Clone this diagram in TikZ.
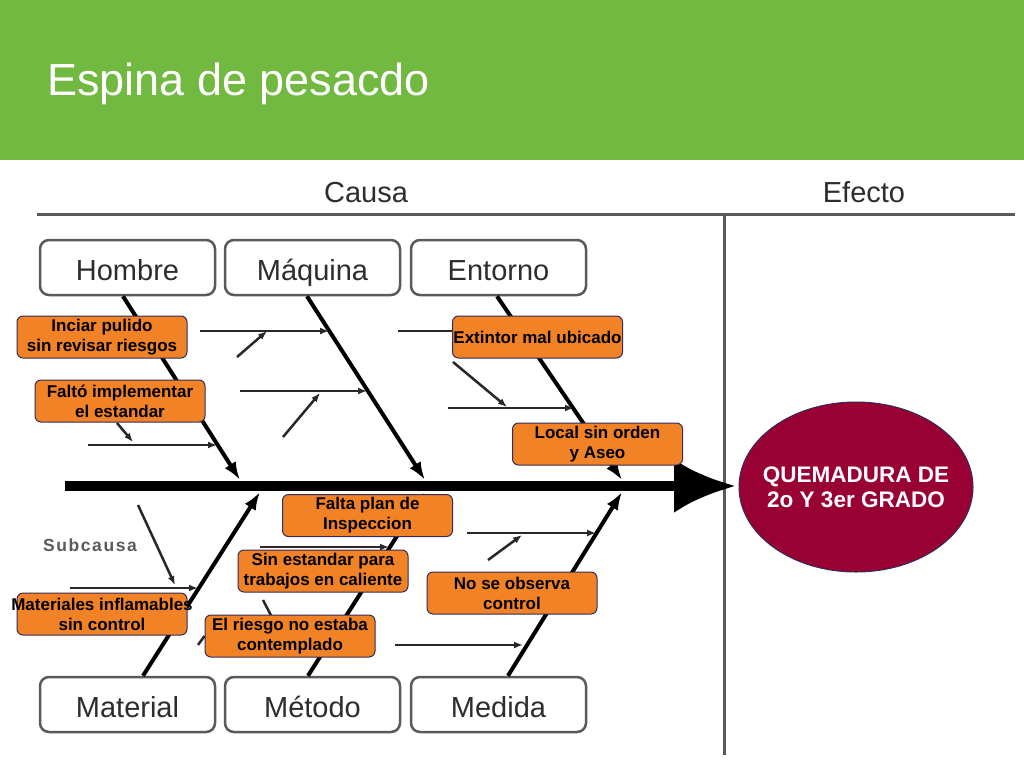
\documentclass[tikz,border=0pt]{standalone}
\usepackage{fontspec}
\setmainfont{Liberation Sans}
\usetikzlibrary{arrows.meta,shapes.geometric}
\definecolor{hdrgreen}{RGB}{114,185,66}
\definecolor{boxorange}{RGB}{242,130,38}
\definecolor{boxedge}{RGB}{50,45,90}
\definecolor{crimson}{RGB}{153,0,51}
\definecolor{linegray}{RGB}{90,90,90}
\definecolor{subgray}{RGB}{40,40,40}
\definecolor{txtgray}{RGB}{45,45,45}
\begin{document}
\begin{tikzpicture}[x=1pt,y=-1pt,
  catbox/.style={draw=linegray, line width=2.5pt, rounded corners=9pt, fill=white,
    minimum width=175pt, minimum height=55pt, inner sep=0pt,
    text height=28pt, text depth=3pt,
    font=\fontsize{29}{31}\selectfont, text=txtgray},
  causebox/.style={draw=boxedge, line width=1pt, rounded corners=6pt, fill=boxorange,
    minimum width=170pt, minimum height=42pt, inner sep=0pt, align=center,
    font=\bfseries\fontsize{17}{20}\selectfont},
  bone/.style={line width=4pt, -{Latex[length=18pt,width=13pt]}},
  sub/.style={draw=subgray, line width=2.5pt, -{Latex[length=9pt,width=7pt]}},
  subline/.style={draw=subgray, line width=2.5pt},
  frameline/.style={draw=linegray, line width=3pt},
]
\useasboundingbox (0,0) rectangle (1024,768);
\fill[white] (0,0) rectangle (1024,768);
\fill[hdrgreen] (0,0) rectangle (1024,160);
\node[anchor=base west, text=white, font=\fontsize{45}{50}\selectfont, inner sep=0pt] (title) at (47,95) {Espina de pesacdo};

% frame
\coordinate (tlL) at (37,214);
\coordinate (tlR) at (1015,214);
\coordinate (vtT) at (724,214);
\coordinate (vtB) at (724,755);
\draw[frameline] (tlL) -- (tlR);
\draw[frameline] (vtT) -- (vtB);
\node[anchor=base, font=\fontsize{29}{32}\selectfont, text=txtgray, inner sep=0pt] (causa) at (366,202) {Causa};
\node[anchor=base, font=\fontsize{29}{32}\selectfont, text=txtgray, inner sep=0pt] (efecto) at (864,202) {Efecto};

% category boxes
\node[catbox] (hombre) at (127.5,267.5) {Hombre};
\node[catbox] (maquina) at (312.5,267.5) {Máquina};
\node[catbox] (entorno) at (498.5,267.5) {Entorno};
\node[catbox] (material) at (127.5,704.5) {Material};
\node[catbox] (metodo) at (312.5,704.5) {Método};
\node[catbox] (medida) at (498.5,704.5) {Medida};

% spine
\coordinate (spL) at (65,486);
\coordinate (spR) at (736,486);
\draw[line width=10pt, -{Latex[length=62pt,width=54pt]}] (spL) -- (spR);

% bone tips
\coordinate (tH) at (240,480);
\coordinate (tQ) at (425,480);
\coordinate (tE) at (622,480);
\coordinate (tM) at (260,492);
\coordinate (tT) at (425,492);
\coordinate (tD) at (622,492);
\draw[bone] ([xshift=-4.5pt]hombre.south) -- (tH);
\draw[bone] ([xshift=-5.5pt]maquina.south) -- (tQ);
\draw[bone] ([xshift=-1.5pt]entorno.south) -- (tE);
\draw[bone] ([xshift=15.5pt]material.north) -- (tM);
\draw[bone] ([xshift=-4.5pt]metodo.north) -- (tT);
\draw[bone] ([xshift=9.5pt]medida.north) -- (tD);

% sub-cause arrows (upper)
\coordinate (a1) at (200,331); \coordinate (b1) at (329,331);
\coordinate (a2) at (237,357); \coordinate (b2) at (267,331);
\coordinate (a3) at (240,391); \coordinate (b3) at (367,391);
\coordinate (a4) at (283,437); \coordinate (b4) at (320,393);
\coordinate (a5) at (88,445);  \coordinate (b5) at (217,445);
\coordinate (a6) at (117,423); \coordinate (b6) at (133,442);
\coordinate (a7) at (398,331);
\coordinate (a8) at (453,362); \coordinate (b8) at (507,407);
\coordinate (a9) at (448,408); \coordinate (b9) at (574,408);
\draw[sub] (a1) -- (b1);
\draw[sub] (a2) -- (b2);
\draw[sub] (a3) -- (b3);
\draw[sub] (a4) -- (b4);
\draw[sub] (a5) -- (b5);
\draw[sub] (a6) -- (b6);
\draw[sub] (a8) -- (b8);
\draw[sub] (a9) -- (b9);

% sub-cause arrows (lower)
\coordinate (a10) at (138,505); \coordinate (b10) at (175,585);
\coordinate (a11) at (70,588);  \coordinate (b11) at (198,588);
\coordinate (a12) at (198,645);
\coordinate (a13) at (263,600); \coordinate (b13) at (276,625);
\coordinate (a14) at (260,547); \coordinate (b14) at (389,547);
\coordinate (a15) at (467,533); \coordinate (b15) at (596,533);
\coordinate (a16) at (488,560); \coordinate (b16) at (522,535);
\coordinate (a17) at (395,645); \coordinate (b17) at (523,645);
\draw[sub] (a10) -- (b10);
\draw[sub] (a11) -- (b11);
\draw[subline] (a13) -- (b13);
\draw[sub] (a14) -- (b14);
\draw[sub] (a15) -- (b15);
\draw[sub] (a16) -- (b16);
\draw[sub] (a17) -- (b17);

\node[font=\bfseries\fontsize{17.5}{19}\selectfont\addfontfeature{LetterSpace=9}, text=linegray, inner sep=0pt] (subcausa) at (90,545) {Subcausa};

% cause boxes
\node[causebox] (inciar) at (102,337) {Inciar pulido\\sin revisar riesgos};
\node[causebox] (faltoimpl) at (120,401) {Faltó implementar\\el estandar};
\node[causebox] (ext) at (537.5,337) {Extintor mal ubicado};
\draw[subline] (a7) -- (a7 -| ext.west);
\node[causebox] (local) at (597.5,444) {Local sin orden\\y Aseo};
\node[causebox] (faltaplan) at (367.5,515.5) {Falta plan de\\Inspeccion};
\node[causebox] (sinest) at (323,571) {Sin estandar para\\trabajos en caliente};
\node[causebox] (noobs) at (512,593) {No se observa\\control};
\node[causebox] (materiales) at (102,614) {\makebox[0pt]{Materiales inflamables}\\sin control};
\node[causebox] (riesgo) at (290,636) {El riesgo no estaba\\contemplado};
\draw[subline] (a12) -- (riesgo.west);

% effect
\node[ellipse, draw=boxedge, line width=1pt, fill=crimson, minimum width=234pt, minimum height=170pt,
  inner sep=0pt] (effect) at (856,487) {};
\node[inner sep=0pt, text=white, align=center, font=\bfseries\fontsize{22.5}{25}\selectfont] (effecttext) at (effect.center) {QUEMADURA DE\\2o Y 3er GRADO};
\end{tikzpicture}
\end{document}
